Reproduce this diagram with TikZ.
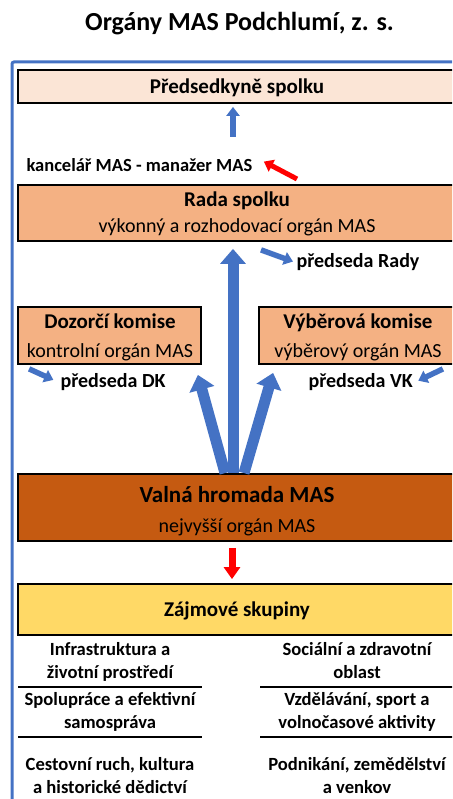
\documentclass[tikz,border=0pt]{standalone}
\usepackage{fontspec}
\setmainfont{Carlito}
\usetikzlibrary{calc,arrows.meta}
\definecolor{frameblue}{HTML}{4472C4}
\definecolor{lightpeach}{HTML}{FBE5D6}
\definecolor{peach}{HTML}{F4B183}
\definecolor{rust}{HTML}{C55A11}
\definecolor{gold}{HTML}{FFD966}

\begin{document}
\begin{tikzpicture}[x=1pt,y=-1pt,
        box/.style={draw=black, line width=1.8pt, inner sep=0pt, minimum height=#1},
        head/.style={anchor=base, font=\fontsize{21}{25}\selectfont\bfseries},
        sub/.style={anchor=base, font=\fontsize{20}{24}\selectfont},
        lbl/.style={anchor=base west, font=\fontsize{20}{24}\selectfont\bfseries},
        item/.style={anchor=base, align=center, font=\fontsize{18.6}{22.5}\selectfont\bfseries},
        bigup/.style={frameblue, line width=11pt, -{Triangle[length=15pt,width=25pt]}},
        smallup/.style={frameblue, line width=5.5pt, -{Triangle[length=9pt,width=13pt]}},
        redup/.style={red, line width=5pt, -{Triangle[length=9pt,width=13pt]}}]
    \useasboundingbox (0,0) rectangle (452,799);
    \clip (0,0) rectangle (452,799);

    \node[anchor=base, font=\fontsize{26}{30}\selectfont\bfseries] (title) at (239.5,31) {Orgány MAS Podchlumí, z. s.};
    % outline
    \draw [frameblue, line width=3pt, rounded corners=2pt] (12,810) -- (12,62) -- (470,62);

    % boxes
    \node[box=33pt, fill=lightpeach, minimum width=438pt] (pred) at (237,86.5) {};
    \node[head] (pred-t) at (237,94) {Předsedkyně spolku};
    \node[box=56pt, fill=peach, minimum width=438pt] (rada) at (237,213) {};
    \node[head] (rada-t) at (237,207) {Rada spolku};
    \node[sub] (rada-s) at (237,233) {výkonný a rozhodovací orgán MAS};
    \node[box=57pt, fill=peach, minimum width=183pt] (dozor) at (109.5,335.5) {};
    \node[head] (dozor-t) at (110,328) {Dozorčí komise};
    \node[sub] (dozor-s) at (110,357) {kontrolní orgán MAS};
    \node[box=57pt, fill=peach, minimum width=198pt] (vyber) at (358,335.5) {};
    \node[head] (vyber-t) at (358,328) {Výběrová komise};
    \node[sub] (vyber-s) at (358,357) {výběrový orgán MAS};
    \node[box=67pt, fill=rust, minimum width=438pt] (valna) at (237,507.5) {};
    \node[head, font=\fontsize{23}{27}\selectfont\bfseries] (valna-t) at (237,502) {Valná hromada MAS};
    \node[sub] (valna-s) at (237,532) {nejvyšší orgán MAS};
    \node[box=51pt, fill=gold, minimum width=438pt] (zajem) at (237,609.5) {};
    \node[head] (zajem-t) at (237,616) {Zájmové skupiny};

    % labels
    \node[lbl, font=\fontsize{18.5}{22}\selectfont\bfseries] (kancelar) at (23,172) {kancelář MAS - manažer MAS};
    \node[lbl] (predRady) at (293,267) {předseda Rady};
    \node[lbl] (predDK) at (57,387) {předseda DK};
    \node[lbl] (predVK) at (305,387) {předseda VK};

    % groups (base = last line)
    \node[item] (g1) at (110,678) {Infrastruktura a\\životní prostředí};
    \node[item] (g2) at (357,678) {Sociální a zdravotní\\oblast};
    \node[item] (g3) at (110,728) {Spolupráce a efektivní\\samospráva};
    \node[item] (g4) at (357,728) {Vzdělávání, sport a\\volnočasové aktivity};
    \node[item] (g5) at (110,793) {Cestovní ruch, kultura\\a historické dědictví};
    \node[item] (g6) at (357,793) {Podnikání, zemědělství\\a venkov};
    \draw [line width=1.3pt] (18,687) -- (202,687) (18,737) -- (202,737)
                             (260,687) -- (460,687) (260,737) -- (460,737);

    % arrows
    \coordinate (up-a) at (233,137);
    \draw [smallup, shorten >=3pt] (up-a) -- (up-a |- pred.south);
    \coordinate (red-a) at (297,179);
    \draw [redup] (red-a) -- ($(kancelar.east)+(8,-4)$);
    \draw [bigup] ($(valna.north)+(-4,0)$) -- ($(rada.south)+(-4,7)$);
    \draw [bigup] ($(valna.north)+(-12,0)$) -- ($(dozor.south east)+(-4,10)$);
    \draw [bigup] ($(valna.north)+(7,0)$) -- ($(vyber.south west)+(15,8)$);
    \draw [smallup] ($(rada.south)+(24,8)$) -- (predRady.west);
    \draw [smallup, shorten >=4pt] ($(dozor.south west)+(12,4)$) -- (predDK.west);
    \draw [smallup, shorten >=2pt] ($(vyber.south east)+(-15,4)$) -- (predVK.east);
    \draw [redup, line width=7pt, -{Triangle[length=12pt,width=16pt]}] ($(valna.south)+(-5,6)$) -- ($(zajem.north)+(-5,-4)$);
\end{tikzpicture}
\end{document}
